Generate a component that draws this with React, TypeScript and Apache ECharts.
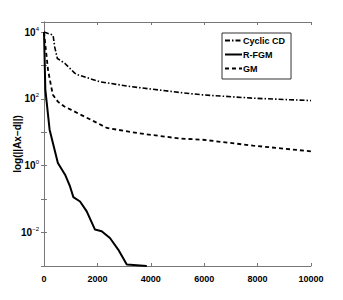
import React, { useEffect, useRef } from "react";
import * as echarts from "echarts";

const cyclicCD: [number, number][] = [
  [0, 10000], [340, 8100], [400, 3600], [500, 1620], [775, 1170], [1150, 590],
  [1270, 525], [2100, 325], [3220, 235], [5090, 155], [5950, 132], [7830, 105], [10000, 89],
];
const rfgm: [number, number][] = [
  [0, 10000], [50, 190], [210, 12], [520, 1.2], [790, 0.54], [975, 0.24], [1100, 0.115],
  [1350, 0.085], [1600, 0.043], [1910, 0.0123], [2160, 0.011], [2470, 0.0069],
  [2780, 0.0031], [3100, 0.0011], [3850, 0.001],
];
const gm: [number, number][] = [
  [0, 10000], [150, 740], [275, 220], [340, 130], [520, 83], [750, 60], [1020, 47],
  [1270, 37], [1700, 25], [2360, 13.5], [3500, 9.5], [5090, 6.5], [5950, 6.0],
  [7830, 4.0], [10000, 2.7],
];
const seriesNames = ["Cyclic CD", "R-FGM", "GM"];
const yAxisName = "log(||Ax\u2212d||)";

const FONT = "'Liberation Sans', Arial, sans-serif";

export default function App() {
  const ref = useRef<HTMLDivElement>(null);
  useEffect(() => {
    if (!ref.current) return;
    const chart = echarts.init(ref.current, null, { renderer: "svg" });
    const axisColor = "#777";
    const logLabel = (v: number) => {
      const e = Math.round(Math.log10(v));
      if (e % 2 !== 0) return "";
      return `{b|10}{sup|${e < 0 ? "\u2212" + -e : e}}`;
    };
    chart.setOption({
      animation: false,
      backgroundColor: "#fff",
      grid: { left: 44, right: 32, top: 22, bottom: 34, outerBoundsMode: "none", containLabel: false },
      legend: {
        orient: "vertical",
        left: 222,
        top: 33,
        padding: [3, 6, 6, 2],
        borderColor: "#333",
        borderWidth: 1,
        backgroundColor: "#fff",
        itemWidth: 17,
        itemHeight: 10,
        itemGap: 5,
        itemStyle: { color: "transparent", borderColor: "transparent", borderWidth: 0, opacity: 0 },
        textStyle: { fontFamily: FONT, fontWeight: "bold", fontSize: 9, color: "#000", padding: [0, 0, 0, -4] },
        data: seriesNames,
      },
      xAxis: [
        {
          type: "value",
          min: 0,
          max: 10000,
          interval: 2000,
          axisLine: { lineStyle: { color: axisColor } },
          axisTick: { inside: true, length: 3, lineStyle: { color: axisColor } },
          splitLine: { show: false },
          axisLabel: {
            fontFamily: FONT,
            fontWeight: "bold",
            fontSize: 9,
            color: "#000",
            margin: 8,
            formatter: (v: number) => String(v),
          },
        },
        {
          type: "value",
          position: "top",
          min: 0,
          max: 10000,
          interval: 2000,
          axisLine: { lineStyle: { color: axisColor } },
          axisTick: { inside: true, length: 3, lineStyle: { color: axisColor } },
          splitLine: { show: false },
          axisLabel: { show: false },
        },
      ],
      yAxis: [
        {
          type: "log",
          logBase: 10,
          min: 0.001,
          max: 20000,
          name: yAxisName,
          nameLocation: "middle",
          nameGap: 22,
          nameMoveOverlap: false,
          nameTextStyle: { fontFamily: FONT, fontWeight: "bold", fontSize: 10, color: "#000" },
          axisLine: { lineStyle: { color: axisColor } },
          axisTick: { inside: true, length: 3, lineStyle: { color: axisColor } },
          splitLine: { show: false },
          minorTick: { show: false },
          axisLabel: {
            formatter: logLabel,
            margin: 5,
            rich: {
              b: { fontFamily: FONT, fontWeight: "bold", fontSize: 10, color: "#000" },
              sup: { fontFamily: FONT, fontSize: 6, color: "#000", verticalAlign: "bottom", padding: [0, 0, 7, 0] },
            },
          },
        },
        {
          type: "log",
          logBase: 10,
          min: 0.001,
          max: 20000,
          position: "right",
          axisLine: { lineStyle: { color: axisColor } },
          axisTick: { inside: true, length: 3, lineStyle: { color: axisColor } },
          splitLine: { show: false },
          axisLabel: { show: false },
        },
      ],
      series: [
        {
          name: seriesNames[0],
          type: "line",
          data: cyclicCD,
          symbol: "none",
          color: "#000",
          lineStyle: { color: "#000", width: 1.6, type: [5, 2, 1.5, 2] },
        },
        {
          name: seriesNames[1],
          type: "line",
          data: rfgm,
          symbol: "none",
          color: "#000",
          lineStyle: { color: "#000", width: 2 },
        },
        {
          name: seriesNames[2],
          type: "line",
          data: gm,
          symbol: "none",
          color: "#000",
          lineStyle: { color: "#000", width: 1.8, type: [4, 3] },
        },
      ],
    });
    return () => chart.dispose();
  }, []);
  return (
    <div
      ref={ref}
      style={{ position: "fixed", left: 0, top: 0, width: 343, height: 300 }}
    />
  );
}
